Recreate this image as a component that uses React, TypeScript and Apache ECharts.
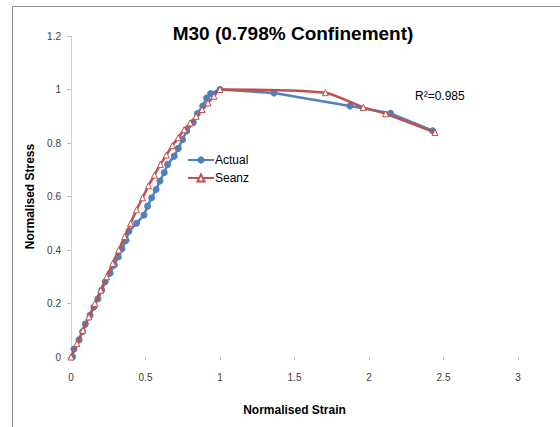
import React, { useEffect, useRef } from "react";
import * as echarts from "echarts";

const actualStrain = [0.01, 0.02, 0.054, 0.078, 0.096, 0.128, 0.154, 0.181, 0.206, 0.23, 0.262, 0.291, 0.318, 0.342, 0.369, 0.389, 0.44, 0.49, 0.514, 0.541, 0.571, 0.597, 0.626, 0.648, 0.693, 0.72, 0.749, 0.776, 0.821, 0.848, 0.884, 0.91, 0.937, 1.0, 1.362, 1.872, 2.145, 2.427];
const actualStress = [0, 0.03, 0.064, 0.095, 0.123, 0.156, 0.187, 0.218, 0.25, 0.281, 0.313, 0.344, 0.375, 0.405, 0.436, 0.47, 0.5, 0.531, 0.564, 0.595, 0.626, 0.658, 0.69, 0.72, 0.751, 0.78, 0.813, 0.845, 0.877, 0.91, 0.938, 0.968, 0.985, 1.0, 0.987, 0.938, 0.911, 0.846];

const seanzStrain = [0, 0.04, 0.08, 0.12, 0.16, 0.2, 0.24, 0.28, 0.32, 0.36, 0.4, 0.44, 0.48, 0.52, 0.56, 0.6, 0.64, 0.68, 0.72, 0.76, 0.8, 0.84, 0.88, 0.92, 0.96, 1.0, 1.707, 1.962, 2.112, 2.443];
const seanzStress = [0, 0.05, 0.1, 0.15, 0.2, 0.25, 0.3, 0.35, 0.4, 0.45, 0.5, 0.55, 0.595, 0.64, 0.68, 0.72, 0.755, 0.79, 0.82, 0.85, 0.875, 0.9, 0.925, 0.95, 0.975, 1.0, 0.988, 0.933, 0.909, 0.839];

const xTicks = [0, 0.5, 1, 1.5, 2, 2.5, 3];
const yTicks = [0, 0.2, 0.4, 0.6, 0.8, 1, 1.2];

const titleText = "M30 (0.798% Confinement)";
const r2Text = "R²=0.985";

export default function App() {
  const ref = useRef<HTMLDivElement>(null);
  useEffect(() => {
    if (!ref.current) return;
    const chart = echarts.init(ref.current, undefined, { renderer: "svg" });
    const font = "'Liberation Sans', Arial, sans-serif";
    chart.setOption({
      animation: false,
      backgroundColor: "#ffffff",
      textStyle: { fontFamily: font },
      title: {
        text: titleText,
        left: 288,
        top: 19,
        textAlign: "center",
        textStyle: { fontSize: 19, fontWeight: "bold", color: "#000", fontFamily: font },
      },
      grid: { left: 71, right: 42, top: 36, bottom: 70 },
      legend: {
        orient: "vertical",
        left: 182,
        top: 149,
        itemWidth: 26,
        itemHeight: 9,
        itemGap: 6,
        textStyle: { fontSize: 12, color: "#000", fontFamily: font, padding: [0, 0, 0, -4] },
        data: ["Actual", "Seanz"],
      },
      xAxis: {
        type: "value",
        min: 0,
        max: 3,
        interval: 0.5,
        name: "Normalised Strain",
        nameLocation: "middle",
        nameGap: 47,
        nameTextStyle: { fontSize: 12, fontWeight: "bold", color: "#000" },
        axisLine: { show: false },
        axisTick: { show: true, length: 3, inside: false, lineStyle: { color: "#bfbfbf" } },
        axisLabel: {
          fontSize: 10,
          color: "#404040",
          margin: 15,
          formatter: (v: number) => (xTicks.includes(v) ? String(v) : ""),
        },
        splitLine: { show: false },
      },
      yAxis: {
        type: "value",
        min: 0,
        max: 1.2,
        interval: 0.2,
        name: "Normalised Stress",
        nameLocation: "middle",
        nameGap: 34,
        nameTextStyle: { fontSize: 12, fontWeight: "bold", color: "#000" },
        axisLine: { show: true, lineStyle: { color: "#d0d0d0", width: 1 } },
        axisTick: { show: true, length: 4, lineStyle: { color: "#bfbfbf" } },
        axisLabel: {
          fontSize: 10,
          color: "#404040",
          margin: 10,
          formatter: (v: number) => {
            const t = yTicks.find((k) => Math.abs(k - v) < 1e-6);
            return t === undefined ? "" : String(t);
          },
        },
        splitLine: { show: false },
      },
      graphic: [
        {
          type: "rect",
          shape: { x: 12.5, y: 6.5, width: 600, height: 500 },
          style: { fill: "none", stroke: "#8c8c8c", lineWidth: 1 },
          silent: true,
        },
        {
          type: "text",
          left: 415,
          top: 90,
          style: { text: r2Text, fontSize: 12, fill: "#000", fontFamily: font },
        },
      ],
      series: [
        {
          name: "Actual",
          type: "line",
          data: actualStrain.map((x, i) => [x, actualStress[i]]),
          symbol: "circle",
          symbolSize: 7,
          lineStyle: { color: "#4F81BD", width: 2.5 },
          itemStyle: { color: "#4F81BD" },
          z: 2,
        },
        {
          name: "Seanz",
          type: "line",
          data: seanzStrain.map((x, i) => [x, seanzStress[i]]),
          symbol: "triangle",
          symbolSize: 6,
          smooth: 0.2,
          lineStyle: { color: "#C0504D", width: 2.5 },
          itemStyle: { color: "#ffffff", borderColor: "#C0504D", borderWidth: 1 },
          z: 3,
        },
      ],
    });
    return () => chart.dispose();
  }, []);
  return (
    <div
      ref={ref}
      style={{ position: "fixed", left: 0, top: 0, width: 560, height: 427 }}
    />
  );
}
